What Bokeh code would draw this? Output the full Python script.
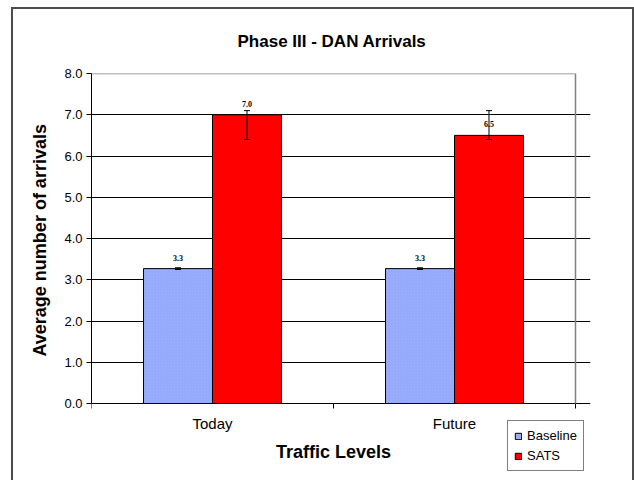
from bokeh.plotting import figure
from bokeh.models import (Range1d, FixedTicker, Whisker, TeeHead, ColumnDataSource, LabelSet,
                          Legend, LegendItem, LinearAxis, NumeralTickFormatter, Title)
from bokeh.embed import file_html
from bokeh.resources import INLINE

# ---- data ----
categories = ["Today", "Future"]
series_names = ["Baseline", "SATS"]
baseline = [3.27, 3.27]
sats = [7.0, 6.5]
baseline_lo = [3.25, 3.25]
baseline_hi = [3.29, 3.29]
sats_lo = [6.4, 6.4]
sats_hi = [7.1, 7.1]
y_ticks = [0, 1, 2, 3, 4, 5, 6, 7, 8]
y_max = 8

FONT = "Liberation Sans"
n = len(categories)
bar_w = 0.285
dodge = bar_w / 2

# ---- layout (pixels) ----
W, H = 634, 480
plot_left, plot_top, plot_right_data, plot_bottom_data = 91, 73, 575, 403
frame_right, frame_bottom = 590, 478
px_per_y = (plot_bottom_data - plot_top) / y_max
px_per_x = (plot_right_data - plot_left) / n
y_start = -(frame_bottom - plot_bottom_data) / px_per_y
x_end = n + (frame_right - plot_right_data) / px_per_x

centers = [i + 0.5 for i in range(n)]
src_b = ColumnDataSource(dict(x=[c - dodge for c in centers], top=baseline,
                              lo=baseline_lo, hi=baseline_hi,
                              lab=[f"{v:.1f}" for v in baseline]))
src_s = ColumnDataSource(dict(x=[c + dodge for c in centers], top=sats,
                              lo=sats_lo, hi=sats_hi,
                              lab=[f"{v:.1f}" for v in sats]))

p = figure(width=W, height=H, x_range=Range1d(0, x_end), y_range=Range1d(y_start, y_max),
           output_backend="svg", toolbar_location=None,
           title="Phase III - DAN Arrivals",
           min_border_left=plot_left, min_border_right=W - frame_right,
           min_border_top=plot_top, min_border_bottom=H - frame_bottom)
p.background_fill_color = "white"
p.border_fill_color = None
p.outline_line_color = None
edge = "#4d4d4d"
p.styles = {
    "background-color": "white",
    "background-image": f"linear-gradient({edge},{edge}), linear-gradient({edge},{edge}), linear-gradient({edge},{edge})",
    "background-size": "2px 100%, 623px 2px, 2px 100%",
    "background-position": "11px 7px, 11px 7px, 632px 7px",
    "background-repeat": "no-repeat",
}

p.title.text_font = FONT
p.title.text_font_size = "17px"
p.title.text_font_style = "bold"
p.title.text_color = "black"
p.title.align = "left"
p.title.offset = 237 - plot_left
p.title.standoff = 46

# y axis
p.yaxis.ticker = FixedTicker(ticks=y_ticks)
p.yaxis.bounds = (0, y_max)
p.yaxis.formatter = NumeralTickFormatter(format="0.0")
p.yaxis.major_tick_out = 5
p.yaxis.major_tick_in = 0
p.yaxis.minor_tick_line_color = None
p.yaxis.axis_line_color = "black"
p.yaxis.major_tick_line_color = "black"
p.yaxis.major_label_text_font = FONT
p.yaxis.major_label_text_font_size = "13px"
p.yaxis.major_label_text_color = "black"
p.yaxis.major_label_standoff = 4

ytitle = Title(text="Average number of arrivals", align="left",
               offset=frame_bottom - 356,
               text_font=FONT, text_font_size="18px", text_font_style="bold",
               text_color="black", standoff=24)
p.add_layout(ytitle, "left")

# x axis drawn at y = 0
p.xaxis.fixed_location = 0
p.xaxis.bounds = (0, n)
p.xaxis.ticker = FixedTicker(ticks=centers, minor_ticks=list(range(n + 1)))
p.xaxis.major_label_overrides = {c: cat for c, cat in zip(centers, categories)}
p.xaxis.major_tick_in = 0
p.xaxis.major_tick_out = 0
p.xaxis.major_tick_line_color = None
p.xaxis.minor_tick_in = 0
p.xaxis.minor_tick_out = 5
p.xaxis.minor_tick_line_color = "black"
p.xaxis.axis_line_color = "black"
p.xaxis.major_label_text_font = FONT
p.xaxis.major_label_text_font_size = "15px"
p.xaxis.major_label_text_color = "black"
p.xaxis.major_label_standoff = 6
p.xaxis.axis_label = "Traffic Levels"
p.xaxis.axis_label_text_font = FONT
p.xaxis.axis_label_text_font_size = "18px"
p.xaxis.axis_label_text_font_style = "bold"
p.xaxis.axis_label_text_color = "black"
p.xaxis.axis_label_standoff = 7

# gray plot-area edges (top and right)
for loc, fixed, bnds in (("right", n, (0, y_max)), ("above", y_max, (0, n))):
    ax = LinearAxis(fixed_location=fixed, bounds=bnds, ticker=FixedTicker(ticks=[]),
                    axis_line_color="#808080", axis_line_width=1.5,
                    major_tick_line_color=None, minor_tick_line_color=None,
                    major_label_text_font_size="0px")
    p.add_layout(ax, loc)

p.xgrid.grid_line_color = None
p.ygrid.grid_line_color = "black"
p.ygrid.grid_line_width = 1
p.ygrid.bounds = (0, n)

rb = p.vbar(x="x", top="top", width=bar_w, source=src_b, fill_color="#9db0ff",
            line_color="black", line_width=1,
            hatch_pattern="right_diagonal_line", hatch_color="#8fa3f5",
            hatch_scale=3, hatch_weight=1, hatch_alpha=0.7)
rs = p.vbar(x="x", top="top", width=bar_w, source=src_s, fill_color="#ff0000",
            line_color="black", line_width=1)

for src in (src_b, src_s):
    p.add_layout(Whisker(base="x", lower="lo", upper="hi", source=src, line_color="black",
                         line_width=1, level="overlay",
                         upper_head=TeeHead(size=6, line_color="black", line_width=1),
                         lower_head=TeeHead(size=6, line_color="black", line_width=1)))
    p.add_layout(LabelSet(x="x", y="top", text="lab", source=src, text_align="center",
                          text_baseline="bottom", y_offset=8, text_font=FONT,
                          text_font_size="8px", text_font_style="bold", text_color="black"))

legend = Legend(items=[LegendItem(label=series_names[0], renderers=[rb]),
                       LegendItem(label=series_names[1], renderers=[rs])],
                location=(507 - plot_left, frame_bottom - 471))
legend.border_line_color = "black"
legend.border_line_width = 1
legend.background_fill_color = "white"
legend.label_text_font = FONT
legend.label_text_font_size = "13px"
legend.label_text_color = "black"
legend.glyph_width = 8
legend.glyph_height = 8
legend.label_standoff = 5
legend.label_height = 17
legend.spacing = 3
legend.padding = 6
legend.margin = 0
p.add_layout(legend)

open("out.html", "w").write(file_html(p, INLINE))
